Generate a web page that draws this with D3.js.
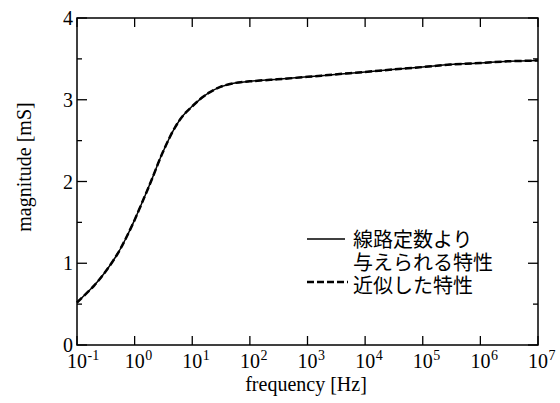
<!DOCTYPE html>
<html>
<head>
<meta charset="utf-8">
<script src="https://cdn.jsdelivr.net/npm/d3@7"></script>
<style>
  body { margin: 0; background: #fff; }
  text { font-family: "Liberation Serif", "Times New Roman", serif; fill: #000; }
  .jp { font-family: "Noto Sans CJK JP", sans-serif; }
</style>
</head>
<body>
<div class="chart"></div>
<script>
// frequency [Hz] and magnitude [mS]
var freq = [0.1, 0.2, 0.3, 0.5, 0.7, 1, 1.5, 2, 3, 5, 7, 10, 15, 20, 30, 50, 100, 300,
            1e3, 3e3, 1e4, 3e4, 1e5, 3e5, 1e6, 3e6, 1e7];
var lineConst = [0.52, 0.73, 0.88, 1.11, 1.30, 1.53, 1.82, 2.03, 2.34, 2.66, 2.81, 2.92, 3.03, 3.09,
                 3.155, 3.20, 3.225, 3.25, 3.28, 3.31, 3.34, 3.37, 3.40, 3.43, 3.45, 3.47, 3.48];
var approx = [0.52, 0.73, 0.88, 1.11, 1.30, 1.53, 1.82, 2.03, 2.34, 2.66, 2.81, 2.92, 3.03, 3.09,
              3.155, 3.20, 3.225, 3.25, 3.28, 3.31, 3.34, 3.37, 3.40, 3.43, 3.45, 3.47, 3.48];

var xTickExp = [-1, 0, 1, 2, 3, 4, 5, 6, 7];
var yTicks = [0, 1, 2, 3, 4];
var yMinor = [0.5, 1.5, 2.5, 3.5];
var legendLabels = [["線路定数より", "与えられる特性"], ["近似した特性"]];

var width = 560, height = 403;
var margin = {left: 77, right: 22, top: 18, bottom: 58};
var innerW = width - margin.left - margin.right;
var innerH = height - margin.top - margin.bottom;

var svg = d3.select('.chart').append('svg')
            .attr('width', width)
            .attr('height', height);

var x = d3.scaleLog().domain([0.1, 1e7]).range([margin.left, margin.left + innerW]);
var y = d3.scaleLinear().domain([0, 4]).range([margin.top + innerH, margin.top]);

var g = svg.append('g');

//ticks, all pointing inward
var majorLen = 10, minorLen = 5;
xTickExp.forEach(function(e){
  var px = x(Math.pow(10, e));
  g.append('line').attr('x1', px).attr('x2', px)
   .attr('y1', y(0)).attr('y2', y(0) - 9)
   .attr('stroke', '#000').attr('stroke-width', 1.3);
  g.append('line').attr('x1', px).attr('x2', px)
   .attr('y1', y(4)).attr('y2', y(4) + 9)
   .attr('stroke', '#000').attr('stroke-width', 1.3);
  g.append('text').attr('x', px).attr('y', 368)
   .attr('text-anchor', 'middle').attr('font-size', 20).text('10');
  g.append('text').attr('x', px + 10.5).attr('y', 360)
   .attr('text-anchor', 'start').attr('font-size', 14).text(e);
});

yTicks.forEach(function(v){
  g.append('line').attr('x1', x(0.1)).attr('x2', x(0.1) + majorLen)
   .attr('y1', y(v)).attr('y2', y(v))
   .attr('stroke', '#000').attr('stroke-width', 1.3);
  g.append('line').attr('x1', x(1e7)).attr('x2', x(1e7) - majorLen)
   .attr('y1', y(v)).attr('y2', y(v))
   .attr('stroke', '#000').attr('stroke-width', 1.3);
  g.append('text').attr('x', 73).attr('y', y(v) + 7)
   .attr('text-anchor', 'end').attr('font-size', 20).text(v);
});

yMinor.forEach(function(v){
  g.append('line').attr('x1', x(0.1)).attr('x2', x(0.1) + minorLen)
   .attr('y1', y(v)).attr('y2', y(v))
   .attr('stroke', '#000').attr('stroke-width', 1.3);
  g.append('line').attr('x1', x(1e7)).attr('x2', x(1e7) - minorLen)
   .attr('y1', y(v)).attr('y2', y(v))
   .attr('stroke', '#000').attr('stroke-width', 1.3);
});

//frame
g.append('rect')
 .attr('x', margin.left).attr('y', margin.top)
 .attr('width', innerW).attr('height', innerH)
 .attr('fill', 'none').attr('stroke', '#000').attr('stroke-width', 1.5);

//axis titles
g.append('text').attr('x', 306).attr('y', 391)
 .attr('text-anchor', 'middle').attr('font-size', 20).text('frequency [Hz]');
g.append('text').attr('transform', 'translate(31,167) rotate(-90)')
 .attr('text-anchor', 'middle').attr('font-size', 20).text('magnitude [mS]');

//curves
var line = d3.line()
             .x(function(d){ return x(d[0]); })
             .y(function(d){ return y(d[1]); })
             .curve(d3.curveCatmullRom.alpha(0.5));

g.append('path').datum(d3.zip(freq, lineConst))
 .attr('d', line).attr('fill', 'none')
 .attr('stroke', '#000').attr('stroke-width', 1.5);
g.append('path').datum(d3.zip(freq, approx))
 .attr('d', line).attr('fill', 'none')
 .attr('stroke', '#000').attr('stroke-width', 2.5)
 .attr('stroke-dasharray', '7,3');

//legend
var leg = g.append('g');
leg.append('line').attr('x1', 307).attr('x2', 345).attr('y1', 239).attr('y2', 239)
   .attr('stroke', '#000').attr('stroke-width', 1.3);
leg.append('line').attr('x1', 307).attr('x2', 348).attr('y1', 282).attr('y2', 282)
   .attr('stroke', '#000').attr('stroke-width', 2.5).attr('stroke-dasharray', '7,3');
var rows = [legendLabels[0][0], legendLabels[0][1], legendLabels[1][0]];
rows.forEach(function(t, i){
  leg.append('text').attr('class', 'jp')
     .attr('x', 353).attr('y', 247 + i * 23)
     .attr('font-size', 20).text(t);
});
</script>
</body>
</html>
